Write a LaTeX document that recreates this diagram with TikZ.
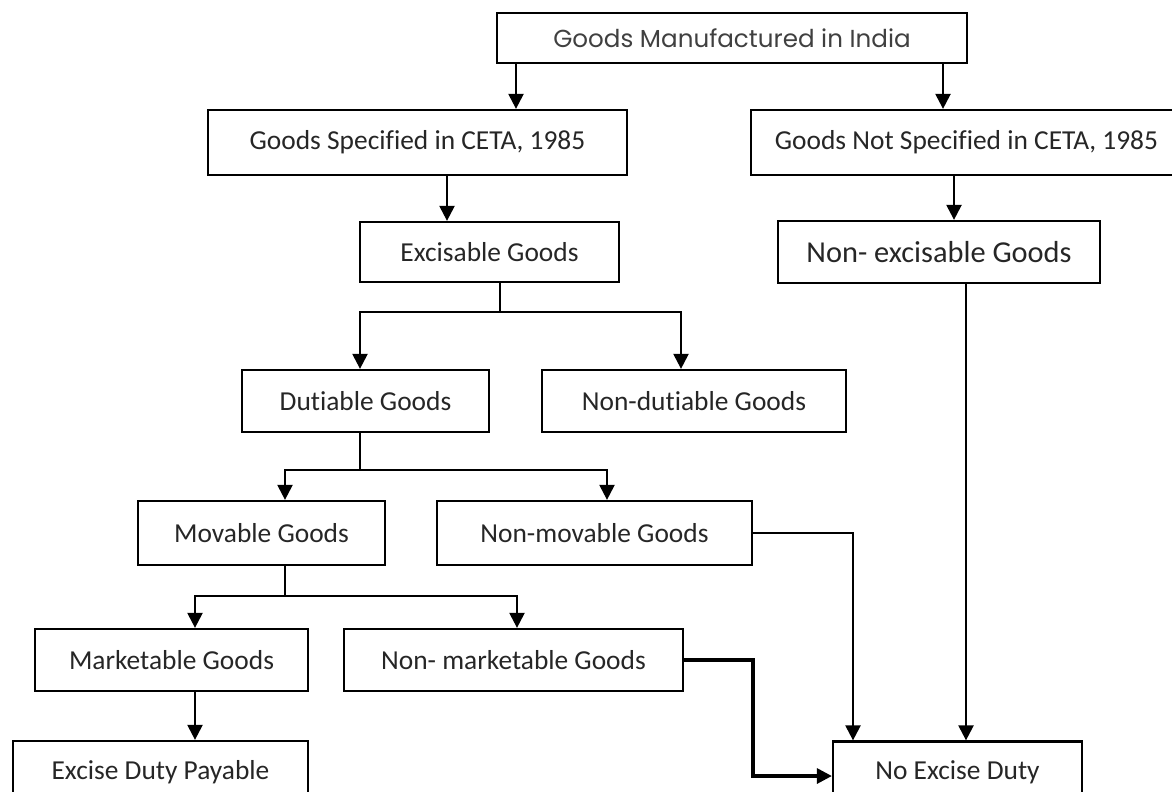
\documentclass[tikz,border=0pt]{standalone}
\usepackage{fontspec}
\setmainfont{Carlito}[Ligatures=NoCommon]
\newfontfamily\gothic{Poppins}
\usetikzlibrary{arrows.meta}

\tikzset{
  box/.style={draw, line width=1.3pt, inner sep=0pt, text=black!85, font=\fontsize{15.6}{18}\selectfont},
  arr/.style={line width=1.3pt, -{Triangle[length=0.3cm, width=0.3cm]}},
  wire/.style={line width=1.3pt},
}

\begin{document}
\begin{tikzpicture}[x=0.02cm, y=-0.02cm]

\useasboundingbox (0,0) rectangle (1172,791);

% boxes
\node[box, minimum width=9.4cm, minimum height=1cm, text=black!75, font=\gothic\fontsize{14}{16}\selectfont] (made) at (732,38) {Goods Manufactured in India};
\node[box, minimum width=8.38cm, minimum height=1.3cm] (spec) at (417.5,142.5) {Goods Specified in CETA, 1985};
\node[box, minimum width=8.62cm, minimum height=1.3cm] (notspec) at (966.5,142.5) {Goods Not Specified in CETA, 1985};
\node[box, minimum width=5.18cm, minimum height=1.2cm] (exc) at (489.5,252) {Excisable Goods};
\node[box, minimum width=6.44cm, minimum height=1.24cm, font=\fontsize{17.3}{20}\selectfont] (nonexc) at (939,252) {Non- excisable Goods};
\node[box, minimum width=4.94cm, minimum height=1.24cm] (dut) at (365.5,401) {Dutiable Goods};
\node[box, minimum width=6.08cm, minimum height=1.24cm] (nondut) at (694,401) {Non-dutiable Goods};
\node[box, minimum width=4.94cm, minimum height=1.28cm] (mov) at (261.5,533) {Movable Goods};
\node[box, minimum width=6.3cm, minimum height=1.28cm] (nonmov) at (594.5,533) {Non-movable Goods};
\node[box, minimum width=5.46cm, minimum height=1.24cm] (mkt) at (171.5,660) {Marketable Goods};
\node[box, minimum width=6.78cm, minimum height=1.24cm] (nonmkt) at (513.5,660) {Non- marketable Goods};
\node[box, minimum width=5.9cm, minimum height=1.24cm] (pay) at (160.5,772) {Excise Duty Payable};
\node[box, minimum width=4.98cm, minimum height=1.24cm] (noduty) at (957.5,772.5) {No Excise Duty};

% arrow columns and forks
\coordinate (colA) at (516,0);
\coordinate (colB) at (943,0);
\coordinate (colC) at (447,0);
\coordinate (colD) at (954,0);
\coordinate (forkE) at (500,312);
\coordinate (colF) at (360,0);
\coordinate (colG) at (681,0);
\coordinate (forkH) at (360,470);
\coordinate (colI) at (285,0);
\coordinate (colJ) at (607,0);
\coordinate (forkK) at (285,596);
\coordinate (colL) at (195,0);
\coordinate (colM) at (517,0);
\coordinate (colN) at (853,0);
\coordinate (colO) at (966,0);
\coordinate (bend) at (753,776);

% connectors
\draw[arr] (made.south -| colA) -- (spec.north -| colA);
\draw[arr] (made.south -| colB) -- (notspec.north -| colB);
\draw[arr] (spec.south -| colC) -- (exc.north -| colC);
\draw[arr] (notspec.south -| colD) -- (nonexc.north -| colD);

\draw[wire] (exc.south -| forkE) -- (forkE);
\draw[arr] (forkE) -| (dut.north -| colF);
\draw[arr] (forkE) -| (nondut.north -| colG);

\draw[wire] (dut.south -| forkH) -- (forkH);
\draw[arr] (forkH) -| (mov.north -| colI);
\draw[arr] (forkH) -| (nonmov.north -| colJ);

\draw[wire] (mov.south -| forkK) -- (forkK);
\draw[arr] (forkK) -| (mkt.north -| colL);
\draw[arr] (forkK) -| (nonmkt.north -| colM);

\draw[arr] (mkt.south -| colL) -- (pay.north -| colL);

\draw[arr] (nonmov.east) -| (noduty.north -| colN);
\draw[arr] (nonexc.south -| colO) -- (noduty.north -| colO);
\draw[arr, line width=1.8pt] (nonmkt.east) -| (bend) -- (noduty.west |- bend);

\end{tikzpicture}
\end{document}
